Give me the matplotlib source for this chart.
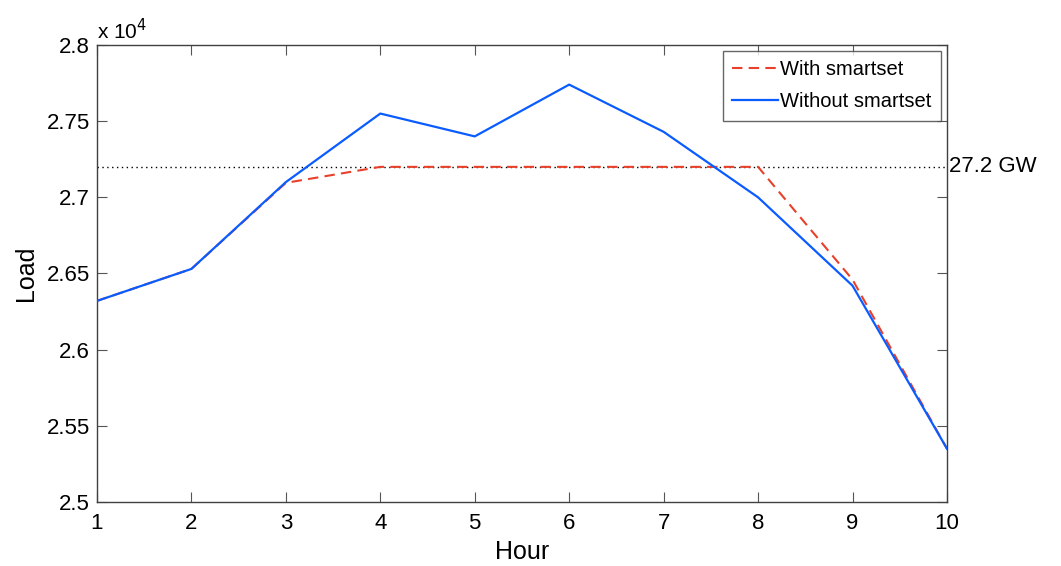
import matplotlib
matplotlib.use("Agg")
import matplotlib.pyplot as plt
from matplotlib.ticker import FuncFormatter

# data (load, hours 1..10)
hours = [1, 2, 3, 4, 5, 6, 7, 8, 9, 10]
with_smartset = [26320, 26530, 27095, 27200, 27200, 27200, 27200, 27200, 26460, 25350]
without_smartset = [26320, 26530, 27100, 27550, 27400, 27740, 27430, 27000, 26420, 25350]
threshold = 27200

plt.rcParams['font.family'] = ['Liberation Sans', 'DejaVu Sans']

fig = plt.figure(figsize=(10.61, 5.66), dpi=100)
ax = fig.add_axes([0.0914, 0.1131, 0.8011, 0.8074])

ax.axhline(threshold, color='black', linestyle=(0, (1, 2.5)), linewidth=1.0, zorder=1)
ax.plot(hours, with_smartset, color='#e8402a', linestyle=(0, (5, 3)), linewidth=1.5,
        label='With smartset', zorder=2)
ax.plot(hours, without_smartset, color='#0a5cff', linewidth=1.6,
        label='Without smartset', zorder=3)

ax.set_xlim(1, 10)
ax.set_ylim(25000, 28000)
ax.set_xticks(hours)
ax.set_yticks([25000, 25500, 26000, 26500, 27000, 27500, 28000])
ax.yaxis.set_major_formatter(FuncFormatter(lambda v, p: ('%.2f' % (v / 1e4)).rstrip('0')))

ax.tick_params(direction='in', top=True, right=True, length=7, width=0.8,
               color='#555555', labelsize=16)
ax.tick_params(axis='x', pad=8)
ax.tick_params(axis='y', pad=5)
for s in ax.spines.values():
    s.set_color('#404040')
    s.set_linewidth(1.0)

ax.set_xlabel('Hour', fontsize=18, labelpad=4)
ax.set_ylabel('Load', fontsize=18, labelpad=6)

ax.text(0.0, 1.005, r'x 10$^4$', transform=ax.transAxes, fontsize=15,
        ha='left', va='bottom')
ax.text(1.003, threshold, '27.2 GW', transform=ax.get_yaxis_transform(),
        fontsize=16, ha='left', va='center')

leg = ax.legend(loc='upper right', fontsize=14.5, frameon=True, fancybox=False,
                handlelength=2.3, handletextpad=0.1, borderpad=0.45,
                labelspacing=0.65, borderaxespad=0.2, bbox_to_anchor=(0.9975, 0.995))
leg.get_frame().set_edgecolor('#404040')
leg.get_frame().set_linewidth(1.0)

fig.savefig('out.png', dpi=100)
